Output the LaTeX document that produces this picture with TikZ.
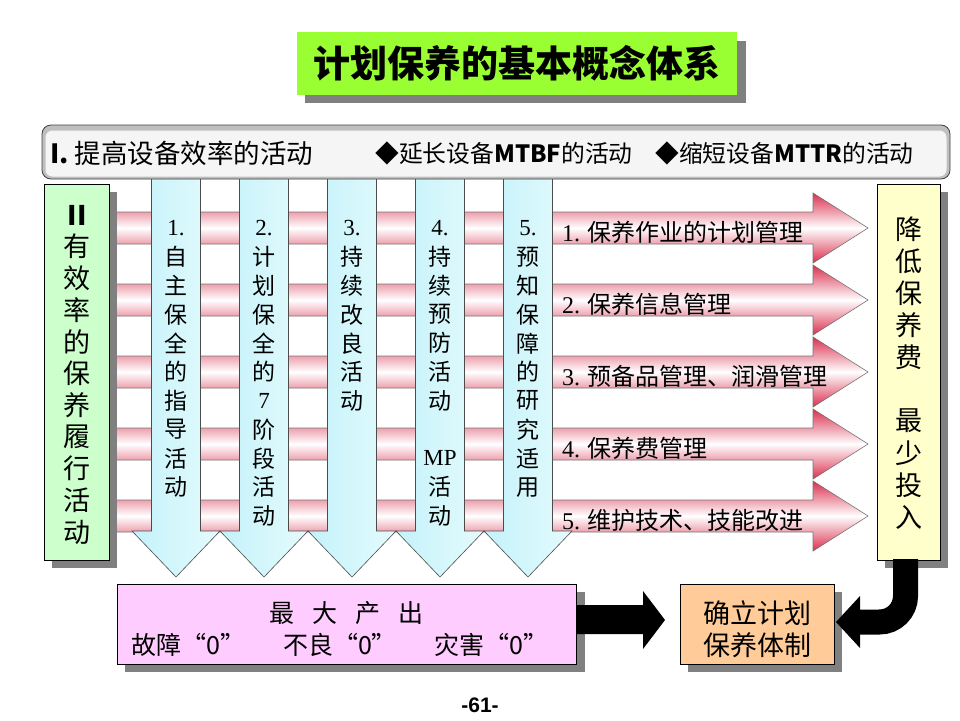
\documentclass[tikz,border=0pt]{standalone}
\usepackage{fontspec}
\setmainfont{Noto Sans CJK SC}
\newfontfamily\lser{Liberation Serif}
\newfontfamily\lsans{Liberation Sans}
\definecolor{titlegreen}{RGB}{153,255,51}
\definecolor{lgreen}{RGB}{204,255,204}
\definecolor{lyellow}{RGB}{255,255,204}
\definecolor{lpink}{RGB}{255,204,255}
\definecolor{lorange}{RGB}{255,204,153}
\definecolor{vcyan}{RGB}{196,242,250}
\definecolor{vcyanl}{RGB}{228,251,253}
\definecolor{hred}{RGB}{218,48,78}
\definecolor{shadowgray}{RGB}{128,128,128}
\newcommand\mycol[3]{\foreach \t [count=\i] in {#3} {\node[vtxt] (#1-\i) at (#2,{228+28.8*(\i-1)}) {\t};}}
\begin{document}
\begin{tikzpicture}[x=1pt,y=-1pt,
  box/.style={draw=black, line width=0.8pt, inner sep=0pt},
  harrow/.style={draw=black!55, line width=0.6pt, top color=hred, bottom color=hred, middle color=white},
  varrow/.style={draw=black!70, line width=0.6pt, left color=vcyan, right color=vcyanl},
  vtxt/.style={font=\fontsize{23}{24}\selectfont, inner sep=0pt},
  btxt/.style={font=\fontsize{27}{30}\selectfont, inner sep=0pt},
  htxt/.style={font=\fontsize{24}{26}\selectfont, inner sep=0pt, anchor=west},
  ttxt/.style={font=\fontsize{23.8}{26}\selectfont, inner sep=0pt, anchor=west}]
\useasboundingbox (0,0) rectangle (960,720);
% title
\fill[shadowgray] (305,41) rectangle (746,103);
\node[fill=titlegreen, minimum width=440pt, minimum height=63pt, inner sep=0pt,
      font=\fontsize{37}{40}\selectfont\bfseries] (title) at (517,63.5) {计划保养的基本概念体系};
% horizontal arrows
\foreach \i in {0,...,4} {
  \pgfmathsetmacro\c{228+72*\i}
  \draw[harrow] (112,\c-16) -- (813,\c-16) -- (813,\c-35) -- (868,\c) -- (813,\c+35) -- (813,\c+16) -- (112,\c+16) -- cycle;
}
% vertical arrows
\foreach \c in {176,264,352,440,528} {
  \draw[varrow] (\c-24.5,176) -- (\c+24.5,176) -- (\c+24.5,531) -- (\c+44,531) -- (\c,577) -- (\c-44,531) -- (\c-24.5,531) -- cycle;
}
% left and right boxes
\fill[shadowgray] (52,192) rectangle (117,568);
\node[box, fill=lgreen, minimum width=65pt, minimum height=376pt] (lbox) at (76.5,372) {};
\fill[shadowgray] (885,192) rectangle (948,568);
\node[box, fill=lyellow, minimum width=63pt, minimum height=376pt] (rbox) at (908.5,372) {};
% top bar
\node[draw=black!75, line width=0.8pt, rounded corners=9pt, fill=gray!50, minimum width=908pt, minimum height=54pt, inner sep=0pt] (topbar) at (496,152) {};
\fill[rounded corners=7pt, gray!8] (45.5,130.5) rectangle (946.5,176.5);
\node[ttxt, font=\fontsize{26.5}{28}\selectfont] (tb1) at (50,153) {{\bfseries I.} 提高设备效率的活动};
\node[ttxt] (tb2) at (375,153) {◆延长设备{\bfseries MTBF}的活动};
\node[ttxt] (tb3) at (655,153) {◆缩短设备{\bfseries MTTR}的活动};
% vertical texts in arrows
\mycol{va}{176}{{\lser 1.},自,主,保,全,的,指,导,活,动}
\mycol{vb}{264}{{\lser 2.},计,划,保,全,的,{\lser 7},阶,段,活,动}
\mycol{vc}{352}{{\lser 3.},持,续,改,良,活,动}
\mycol{vd}{440}{{\lser 4.},持,续,预,防,活,动,{},{\lser MP},活,动}
\mycol{ve}{528}{{\lser 5.},预,知,保,障,的,研,究,适,用}
% left box text
\foreach \t [count=\i] in {{\bfseries II},有,效,率,的,保,养,履,行,活,动} {
  \node[btxt] (lt-\i) at (77,{215+31.7*(\i-1)}) {\t};
}
% right box text
\foreach \t [count=\i] in {降,低,保,养,费,{},最,少,投,入} {
  \node[btxt] (rt-\i) at (909,{229+32*(\i-1)}) {\t};
}
% horizontal labels
\foreach \n/\t [count=\i from 0] in {1/保养作业的计划管理,2/保养信息管理,3/预备品管理、润滑管理,4/保养费管理,5/维护技术、技能改进} {
  \node[htxt] (hl-\n) at (562,{232+72*\i}) {{\lser\n.} \t};
}
% bottom boxes
\fill[shadowgray] (125,592) rectangle (585,672);
\node[box, fill=lpink, minimum width=459pt, minimum height=80pt] (pbox) at (346.5,624) {};
\node[inner sep=0pt, font=\fontsize{25}{28}\selectfont] (pb1) at (346,613) {最\hspace{18pt}大\hspace{18pt}产\hspace{18pt}出};
\node[inner sep=0pt, font=\fontsize{25}{28}\selectfont] (pb2) at (340,645) {故障“0”\hspace{38pt}不良“0”\hspace{38pt}灾害“0”};
\fill[shadowgray] (688,592) rectangle (842,672);
\node[box, fill=lorange, minimum width=154pt, minimum height=80pt] (obox) at (757,624) {};
\node[inner sep=0pt, font=\fontsize{27}{30}\selectfont] (ob1) at (757,613) {确立计划};
\node[inner sep=0pt, font=\fontsize{27}{30}\selectfont] (ob2) at (757,645) {保养体制};
% black block arrow
\fill[black] (576,605) -- (643,605) -- (643,591) -- (665,620) -- (643,649) -- (643,634) -- (576,634) -- cycle;
% curved black arrow from right box to orange box
\coordinate (cs) at (905.5,559);
\coordinate (ce) at (858,622);
\draw[line width=25pt, black] (cs) -- (905.5,596) .. controls (905.5,610.4) and (893.9,622) .. (879.5,622) -- (ce);
\fill[black] (860,596) -- (836,622) -- (860,648) -- cycle;
% page number
\node[inner sep=0pt, font=\lsans\bfseries\fontsize{21}{22}\selectfont] (pg) at (480,705) {-61-};
\end{tikzpicture}
\end{document}
